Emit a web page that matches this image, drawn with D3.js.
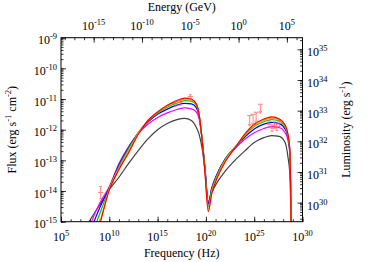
<!DOCTYPE html>
<html>
<head>
<meta charset="utf-8">
<script src="https://cdn.jsdelivr.net/npm/d3@7"></script>
<style>
body { margin: 0; background: #fff; }
text { font-family: "Liberation Serif", "DejaVu Serif", serif; fill: #000; }
</style>
</head>
<body>
<script>
var width = 374;
var height = 262;
var pLeft = 61, pRight = 302.5, pTop = 37.7, pBottom = 221.7;

// log10 of frequency (Hz) shared by all model curves
var logNu = [7.7, 9, 10, 11, 12, 13, 14, 15, 16, 17, 17.8, 18.5, 19, 19.3, 19.6, 19.9, 20.25, 20.6, 21.2, 22, 23, 24, 25, 26, 26.8, 27.6, 28.2, 28.5, 28.7, 28.85];
// log10 of flux for each model
var redF     = [-16.8, -15.12, -13.97, -13.3, -12.75, -12.15, -11.7, -11.42, -11.2, -11.05, -10.97, -11.0, -11.15, -11.5, -12.3, -13.4, -14.67, -14.1, -13.55, -13.05, -12.6, -12.15, -11.82, -11.65, -11.58, -11.65, -11.85, -12.15, -12.7, -16];
var orangeF  = [-16.4, -15.05, -13.93, -13.25, -12.7, -12.12, -11.7, -11.43, -11.23, -11.08, -11.0, -11.03, -11.17, -11.5, -12.3, -13.35, -14.58, -14.03, -13.5, -13.0, -12.6, -12.18, -11.86, -11.69, -11.62, -11.68, -11.88, -12.18, -12.72, -16];
var greenF   = [-15.9, -14.75, -13.93, -13.2, -12.62, -12.1, -11.72, -11.46, -11.27, -11.13, -11.05, -11.07, -11.2, -11.52, -12.3, -13.3, -14.5, -13.97, -13.45, -12.97, -12.58, -12.2, -11.9, -11.74, -11.67, -11.72, -11.92, -12.2, -12.75, -16];
var blueF    = [-15.6, -14.55, -13.9, -13.15, -12.58, -12.1, -11.75, -11.5, -11.33, -11.2, -11.14, -11.16, -11.28, -11.56, -12.3, -13.25, -14.42, -13.92, -13.42, -12.95, -12.58, -12.25, -11.98, -11.82, -11.76, -11.8, -11.98, -12.25, -12.78, -16];
var magentaF = [-15.35, -14.4, -13.85, -13.1, -12.55, -12.12, -11.82, -11.6, -11.45, -11.34, -11.29, -11.32, -11.42, -11.65, -12.3, -13.2, -14.38, -13.9, -13.42, -12.97, -12.62, -12.32, -12.1, -11.96, -11.9, -11.93, -12.1, -12.35, -12.85, -16];
var grayF    = [-15.1, -14.45, -13.95, -13.55, -13.1, -12.68, -12.3, -12.0, -11.8, -11.67, -11.63, -11.7, -11.92, -12.15, -12.6, -13.3, -14.34, -14.05, -13.7, -13.35, -13.0, -12.7, -12.42, -12.26, -12.19, -12.22, -12.42, -12.9, -13.5, -16];
var models = [grayF, magentaF, blueF, greenF, orangeF, redF];
var modelColors = ["#404040", "#ff00ff", "#0000ff", "#00cc00", "#ff9900", "#ff0000"];

// observed points (log10 nu, log10 flux, error, upper limit flag)
var obsNu  = [9.1, 16.83, 17.34, 18.38, 24.53, 24.88, 25.2, 25.64, 26.55, 26.85, 27.1, 27.35, 27.6];
var obsF   = [-14.05, -11.15, -11.12, -10.92, -11.54, -11.5, -11.43, -11.17, -11.82, -11.95, -11.85, -11.92, -11.8];
var obsErr = [0.2, 0.08, 0.08, 0.06, 0.35, 0.35, 0.35, 0.3, 0.1, 0.1, 0.1, 0.1, 0.1];
var obsUL  = [0, 0, 0, 0, 1, 1, 1, 1, 0, 0, 0, 0, 0];

var bottomTicks = [5, 10, 15, 20, 25, 30];
var topTicks = [-15, -10, -5, 0, 5];
var leftTicks = [-15, -14, -13, -12, -11, -10, -9];
var rightTicks = [30, 31, 32, 33, 34, 35];

var logH = Math.log10(4.1357e-24); // GeV s
var lumOffset = 44.38;

var x = d3.scaleLinear().domain([5, 30]).range([pLeft, pRight]);
var xE = d3.scaleLinear().domain([5 + logH, 30 + logH]).range([pLeft, pRight]);
var y = d3.scaleLinear().domain([-15, -9]).range([pBottom, pTop]);
var yR = d3.scaleLinear().domain([-15 + lumOffset, -9 + lumOffset]).range([pBottom, pTop]);

var svg = d3.select("body").append("svg")
    .attr("width", width)
    .attr("height", height);

svg.append("defs").append("clipPath").attr("id", "clip")
    .append("rect")
    .attr("x", pLeft).attr("y", pTop)
    .attr("width", pRight - pLeft).attr("height", pBottom - pTop);

// minor tick positions
function logMinors(lo, hi) {
    var out = [];
    for (var d = Math.floor(lo); d <= hi; d++) {
        for (var k = 1; k <= 9; k++) {
            var v = d + Math.log10(k);
            if (v >= lo && v <= hi) out.push(v);
        }
    }
    return out;
}
function intMinors(lo, hi) {
    var out = [];
    for (var d = Math.ceil(lo); d <= hi; d++) out.push(d);
    return out;
}

function drawTicks(orient, axis, vals, size) {
    var g = svg.append("g");
    if (orient == "bottom") g.attr("transform", "translate(0," + pBottom + ")");
    if (orient == "top") g.attr("transform", "translate(0," + pTop + ")");
    if (orient == "left") g.attr("transform", "translate(" + pLeft + ",0)");
    if (orient == "right") g.attr("transform", "translate(" + pRight + ",0)");
    g.call(axis.tickValues(vals).tickSize(-size).tickFormat(""));
    g.select(".domain").remove();
    g.selectAll("line").attr("stroke", "#000").attr("stroke-width", 0.8);
}

var axes = [
    {orient: "bottom", fn: function() { return d3.axisBottom(x); }, major: bottomTicks, minor: intMinors(5, 30)},
    {orient: "top", fn: function() { return d3.axisTop(xE); }, major: topTicks, minor: intMinors(5 + logH, 30 + logH)},
    {orient: "left", fn: function() { return d3.axisLeft(y); }, major: leftTicks, minor: logMinors(-15, -9)},
    {orient: "right", fn: function() { return d3.axisRight(yR); }, major: rightTicks, minor: logMinors(-15 + lumOffset, -9 + lumOffset)}
];
axes.forEach(function(a) {
    drawTicks(a.orient, a.fn(), a.minor, 2.5);
    drawTicks(a.orient, a.fn(), a.major, 5);
});

// model curves
var line = d3.line()
    .x(function(d) { return x(d[0]); })
    .y(function(d) { return y(d[1]); })
    .curve(d3.curveMonotoneX);

svg.append("g").attr("clip-path", "url(#clip)")
    .selectAll("path")
    .data(models)
    .enter()
    .append("path")
    .attr("d", function(m) { return line(logNu.map(function(v, i) { return [v, m[i]]; })); })
    .attr("fill", "none")
    .attr("stroke", function(d, i) { return modelColors[i]; })
    .attr("stroke-width", 1.2);

// data points
var pts = svg.append("g").attr("clip-path", "url(#clip)")
    .attr("stroke", "#ff5a5a").attr("stroke-width", 1).attr("opacity", 0.75);
obsNu.forEach(function(nu, i) {
    var cx = x(nu), cy = y(obsF[i]);
    pts.append("line").attr("x1", cx - 2.5).attr("x2", cx + 2.5).attr("y1", cy).attr("y2", cy);
    if (obsUL[i]) {
        var ye = y(obsF[i] - obsErr[i]);
        pts.append("line").attr("x1", cx).attr("x2", cx).attr("y1", cy).attr("y2", ye);
        pts.append("path").attr("d", "M" + (cx - 1.5) + "," + (ye - 2.5) + "L" + cx + "," + ye + "L" + (cx + 1.5) + "," + (ye - 2.5))
            .attr("fill", "none");
    } else {
        var y1 = y(obsF[i] + obsErr[i]), y2 = y(obsF[i] - obsErr[i]);
        pts.append("line").attr("x1", cx).attr("x2", cx).attr("y1", y1).attr("y2", y2);
        pts.append("line").attr("x1", cx - 1.5).attr("x2", cx + 1.5).attr("y1", y1).attr("y2", y1);
        pts.append("line").attr("x1", cx - 1.5).attr("x2", cx + 1.5).attr("y1", y2).attr("y2", y2);
    }
});

// frame
svg.append("rect")
    .attr("x", pLeft).attr("y", pTop)
    .attr("width", pRight - pLeft).attr("height", pBottom - pTop)
    .attr("fill", "none").attr("stroke", "#000").attr("stroke-width", 1);

// power-of-ten labels
function powText(xp, yp, exp, anchor) {
    var t = svg.append("text")
        .attr("x", xp).attr("y", yp)
        .attr("text-anchor", anchor)
        .attr("font-size", 12);
    t.append("tspan").text("10");
    t.append("tspan").attr("dy", -5).attr("font-size", 8.5).text(exp);
}
bottomTicks.forEach(function(v) { powText(x(v), pBottom + 19.5, v, "middle"); });
topTicks.forEach(function(v) { powText(xE(v), pTop - 8, v, "middle"); });
leftTicks.forEach(function(v) { powText(pLeft - 4, y(v) + 6.5, v, "end"); });
rightTicks.forEach(function(v) { powText(pRight + 4.5, yR(v) + 7, v, "start"); });

// axis titles
svg.append("text")
    .attr("x", (pLeft + pRight) / 2).attr("y", 257)
    .attr("text-anchor", "middle").attr("font-size", 12)
    .text("Frequency (Hz)");
svg.append("text")
    .attr("x", (pLeft + pRight) / 2).attr("y", 10.5)
    .attr("text-anchor", "middle").attr("font-size", 12)
    .text("Energy (GeV)");

var yl = svg.append("text")
    .attr("transform", "translate(16," + (pTop + pBottom) / 2 + ") rotate(-90)")
    .attr("text-anchor", "middle").attr("font-size", 12);
yl.append("tspan").text("Flux (erg s");
yl.append("tspan").attr("dy", -5).attr("font-size", 8.5).text("-1");
yl.append("tspan").attr("dy", 5).text(" cm");
yl.append("tspan").attr("dy", -5).attr("font-size", 8.5).text("-2");
yl.append("tspan").attr("dy", 5).text(")");

var y2l = svg.append("text")
    .attr("transform", "translate(350," + (pTop + pBottom) / 2 + ") rotate(-90)")
    .attr("text-anchor", "middle").attr("font-size", 12);
y2l.append("tspan").text("Luminosity (erg s");
y2l.append("tspan").attr("dy", -5).attr("font-size", 8.5).text("-1");
y2l.append("tspan").attr("dy", 5).text(")");
</script>
</body>
</html>
